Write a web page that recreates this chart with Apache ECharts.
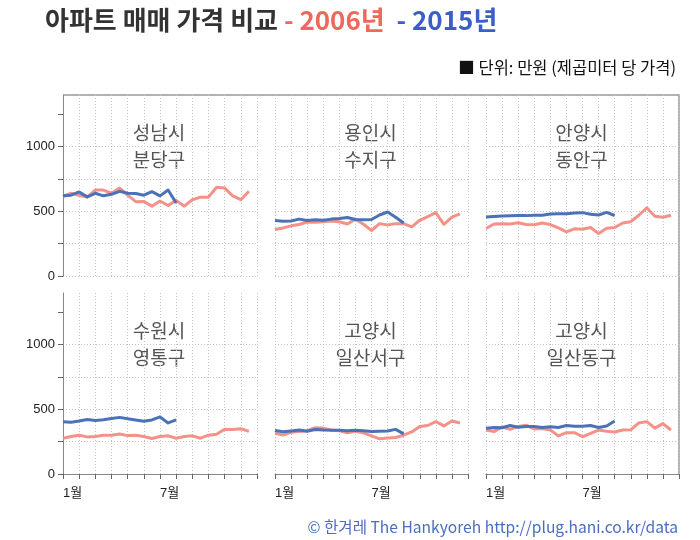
<!DOCTYPE html>
<html><head><meta charset="utf-8">
<script src="https://cdn.jsdelivr.net/npm/echarts@6/dist/echarts.min.js"></script>
<style>html,body{margin:0;padding:0;background:#fff}#c{width:700px;height:540px}</style>
</head><body><div id="c"></div>
<script>
// ---- data ----
const panelNames = ['성남시\n분당구','용인시\n수지구','안양시\n동안구','수원시\n영통구','고양시\n일산서구','고양시\n일산동구'];
const years = ['2006년','2015년'];
const monthLabels = ['1월','7월'];
const xLabelValues = [0, 6];
const xTickValues = [0,1,2,3,4,5,6,7,8,9,10,11,12];
const yTickValues = [0,250,500,750,1000,1250];
const yLabelValues = [0,500,1000];
const pointStep = 0.5; // two readings per month

const bundang2006 = [615,640,625,610,665,665,640,680,625,575,577,540,580,545,585,540,590,610,610,687,680,620,590,655];
const bundang2015 = [620,625,650,612,640,620,632,655,640,638,625,652,620,665,565];
const suji2006 = [360,372,388,398,418,415,420,425,420,402,440,400,352,405,395,405,405,380,431,460,490,400,455,480];
const suji2015 = [430,423,425,440,430,435,432,440,445,452,437,436,437,472,495,455,410];
const dongan2006 = [367,402,404,402,412,398,397,410,398,372,342,365,362,375,328,369,375,410,420,470,528,462,455,470];
const dongan2015 = [456,461,465,466,467,467,470,470,480,482,482,488,490,478,472,492,468];
const yeongtong2006 = [277,290,300,287,290,300,300,310,297,300,290,275,290,295,277,290,295,277,300,308,346,345,350,330];
const yeongtong2015 = [405,400,410,422,413,420,430,438,428,418,408,418,442,395,418];
const ilsanseo2006 = [315,302,322,328,335,358,355,340,335,318,330,318,295,272,278,282,300,325,368,375,405,372,410,395];
const ilsanseo2015 = [336,326,333,340,330,344,340,338,338,335,338,335,328,330,333,345,310];
const ilsandong2006 = [340,328,365,345,368,378,348,352,340,295,320,320,288,315,340,330,325,340,342,395,405,355,390,340];
const ilsandong2015 = [354,360,358,375,362,367,367,360,365,360,375,370,370,375,360,372,410];

const data2006 = [bundang2006, suji2006, dongan2006, yeongtong2006, ilsanseo2006, ilsandong2006];
const data2015 = [bundang2015, suji2015, dongan2015, yeongtong2015, ilsanseo2015, ilsandong2015];

// ---- layout / style ----
const RED = '#f4928a', BLUE = '#4a72b6';
const lefts = [63, 275, 486], widths = [194, 193, 193], tops = [95, 293], H = 181;
const FONT = '"Liberation Sans","Noto Sans CJK KR",sans-serif';
const KFONT = '"Noto Sans CJK KR","Noto Sans",sans-serif';
const dotted = {color:'#c4c4c4', type:[1,2], width:1};

const grid = [], xAxis = [], yAxis = [], series = [], graphic = [];
for (let r = 0; r < 2; r++) {
  for (let c = 0; c < 3; c++) {
    const i = r * 3 + c;
    grid.push({left: lefts[c], top: tops[r], width: widths[c], height: H});
    xAxis.push({
      gridIndex: i, type: 'value', min: 0, max: 12, interval: 3,
      axisLine: {show: r === 1, onZero: false, lineStyle: {color: '#888', width: 1}},
      axisTick: {show: r === 1, customValues: xTickValues, length: 5, lineStyle: {color: '#666'}},
      axisLabel: {show: r === 1, customValues: xLabelValues, align: 'left', margin: 13,
        formatter: v => monthLabels[xLabelValues.indexOf(v)] || '',
        fontSize: 13, color: '#222', fontFamily: FONT},
      splitLine: {show: true, lineStyle: dotted}
    });
    yAxis.push({
      gridIndex: i, type: 'value', min: 0, max: 1400, interval: 500,
      axisLine: {show: c === 0, lineStyle: {color: '#888', width: 1}},
      axisTick: {show: c === 0, customValues: yTickValues, length: 5, lineStyle: {color: '#666'}},
      axisLabel: {show: c === 0, customValues: yLabelValues, margin: 8, fontSize: 13, color: '#222', fontFamily: FONT,
        formatter: v => String(v)},
      splitLine: {show: true, showMaxLine: false, lineStyle: dotted}
    });
    series.push({
      type: 'line', xAxisIndex: i, yAxisIndex: i, name: years[0], showSymbol: false, z: 2,
      lineStyle: {color: RED, width: 3, join: 'round'}, itemStyle: {color: RED},
      data: data2006[i].map((v, k) => [k * pointStep, v])
    });
    series.push({
      type: 'line', xAxisIndex: i, yAxisIndex: i, name: years[1], showSymbol: false, z: 3,
      lineStyle: {color: BLUE, width: 3, join: 'round'}, itemStyle: {color: BLUE},
      data: data2015[i].map((v, k) => [k * pointStep, v])
    });
    graphic.push({
      type: 'text', x: lefts[c] + widths[c] / 2 - 1, y: tops[r] + 51,
      style: {text: panelNames[i], align: 'center', verticalAlign: 'middle',
        fontSize: 19, lineHeight: 27, fill: '#555', fontFamily: KFONT}
    });
  }
}
// outer frame (top and right edges)
graphic.push({
  type: 'polyline', silent: true,
  shape: {points: [[lefts[0], tops[0]], [lefts[2] + widths[2], tops[0]], [lefts[2] + widths[2], tops[1] + H]]},
  style: {stroke: '#999', lineWidth: 1.5, fill: null}
});
graphic.push({
  type: 'text', x: 676, y: 68,
  style: {text: '■ 단위: 만원 (제곱미터 당 가격)', align: 'right', verticalAlign: 'middle',
    fontSize: 16.5, fill: '#111', fontFamily: KFONT}
});
graphic.push({
  type: 'text', x: 678, y: 527,
  style: {text: '© 한겨레 The Hankyoreh http://plug.hani.co.kr/data', align: 'right', verticalAlign: 'middle',
    fontSize: 15.6, fill: '#4a6ec0', fontFamily: KFONT}
});

const chart = echarts.init(document.getElementById('c'), null, {renderer: 'canvas'});
chart.setOption({
  animation: false,
  backgroundColor: '#fff',
  title: {
    text: '{a|아파트 매매 가격 비교}{r| - ' + years[0] + '}{b|  - ' + years[1] + '}',
    left: 40, top: 2,
    textStyle: {
      rich: {
        a: {fontSize: 26, color: '#333', fontWeight: 'bold', fontFamily: KFONT},
        r: {fontSize: 26, color: '#f0675d', fontWeight: 'bold', fontFamily: KFONT},
        b: {fontSize: 26, color: '#3b5fc9', fontWeight: 'bold', fontFamily: KFONT}
      }
    }
  },
  grid, xAxis, yAxis, series, graphic
});
</script>
</body></html>
